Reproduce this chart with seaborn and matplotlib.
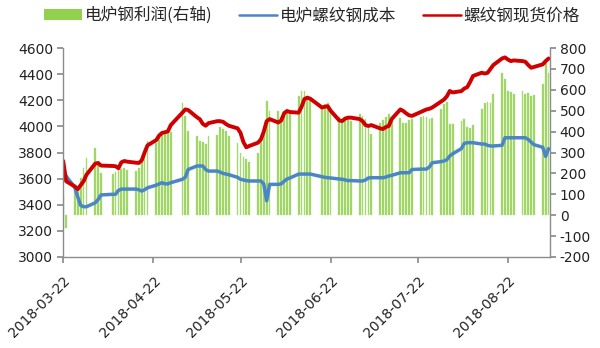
import matplotlib
matplotlib.use("Agg")
import matplotlib.pyplot as plt
import pandas as pd
import seaborn as sns
from matplotlib.patches import Patch
from matplotlib.lines import Line2D

# ---------------- data ----------------
dates = [
    "2018-03-22", "2018-03-23", "2018-03-26", "2018-03-27", "2018-03-28", "2018-03-29", "2018-03-30",
    "2018-04-02", "2018-04-03", "2018-04-04", "2018-04-08", "2018-04-09", "2018-04-10", "2018-04-11",
    "2018-04-12", "2018-04-13", "2018-04-16", "2018-04-17", "2018-04-18", "2018-04-19", "2018-04-20",
    "2018-04-23", "2018-04-24", "2018-04-25", "2018-04-26", "2018-04-27", "2018-04-28",
    "2018-05-02", "2018-05-03", "2018-05-04", "2018-05-07", "2018-05-08", "2018-05-09", "2018-05-10",
    "2018-05-11", "2018-05-14", "2018-05-15", "2018-05-16", "2018-05-17", "2018-05-18", "2018-05-21",
    "2018-05-22", "2018-05-23", "2018-05-24", "2018-05-25", "2018-05-28", "2018-05-29", "2018-05-30",
    "2018-05-31",
    "2018-06-01", "2018-06-04", "2018-06-05", "2018-06-06", "2018-06-07", "2018-06-08", "2018-06-11",
    "2018-06-12", "2018-06-13", "2018-06-14", "2018-06-15", "2018-06-19", "2018-06-20", "2018-06-21",
    "2018-06-22", "2018-06-25", "2018-06-26", "2018-06-27", "2018-06-28", "2018-06-29",
    "2018-07-02", "2018-07-03", "2018-07-04", "2018-07-05", "2018-07-06", "2018-07-09", "2018-07-10",
    "2018-07-11", "2018-07-12", "2018-07-13", "2018-07-16", "2018-07-17", "2018-07-18", "2018-07-19",
    "2018-07-20", "2018-07-23", "2018-07-24", "2018-07-25", "2018-07-26", "2018-07-27", "2018-07-30",
    "2018-07-31",
    "2018-08-01", "2018-08-02", "2018-08-03", "2018-08-06", "2018-08-07", "2018-08-08", "2018-08-09",
    "2018-08-10", "2018-08-13", "2018-08-14", "2018-08-15", "2018-08-16", "2018-08-17", "2018-08-20",
    "2018-08-21", "2018-08-22", "2018-08-23", "2018-08-24", "2018-08-27", "2018-08-28", "2018-08-29",
    "2018-08-30", "2018-08-31",
    "2018-09-03", "2018-09-04", "2018-09-05",
]

profit = [
    90, -60, 116, 132, 180, 228, 275,
    320, 245, 200, 195, 205, 225, 220, 228, 218,
    210, 228, 265, 320, 355,
    345, 372, 385, 390, 403, 398,
    538, 475, 403, 379, 355, 350, 340, 379,
    385, 420, 411, 403, 380, 345, 300, 280, 268, 255,
    299, 355, 395, 546,
    498, 498, 470, 500, 498, 490, 570, 594, 594, 570, 555,
    522, 530, 537, 508, 470, 460, 455, 465, 450,
    485, 475, 459, 419, 387, 440, 455, 470, 485, 470,
    465, 440, 440, 455, 460, 470, 475, 472, 460, 465, 508, 532,
    540, 436, 436, 450, 460, 420, 415, 430, 508, 537, 540, 535, 578,
    682, 650, 594, 590, 578, 594, 578, 586, 570, 575,
    627, 740, 680,
]

cost = [
    3650, 3620, 3530, 3460, 3395, 3385, 3385,
    3415, 3440, 3475, 3480, 3480, 3510, 3520, 3520, 3520,
    3520, 3515, 3505, 3515, 3530,
    3550, 3560, 3569, 3560, 3560, 3569,
    3595, 3610, 3670, 3697, 3697, 3697, 3670, 3658,
    3658, 3650, 3640, 3635, 3630, 3610, 3595, 3590, 3585, 3582,
    3582, 3582, 3560, 3430,
    3556, 3556, 3560, 3580, 3597, 3605, 3635, 3635, 3635, 3635, 3635,
    3615, 3610, 3607, 3605, 3597, 3595, 3590, 3585, 3585,
    3582, 3582, 3590, 3605, 3607, 3607, 3607, 3612, 3620, 3625,
    3645, 3645, 3645, 3645, 3670, 3673, 3673, 3673, 3690, 3722, 3730, 3735,
    3745, 3773, 3790, 3830, 3870, 3875, 3875, 3875, 3865, 3865, 3855, 3850, 3850,
    3855, 3913, 3913, 3913, 3913, 3913, 3913, 3900, 3880, 3860,
    3840, 3770, 3830,
]

spot = [
    3735, 3580, 3540, 3520, 3550, 3580, 3630,
    3715, 3720, 3700, 3697, 3695, 3680, 3725, 3735, 3730,
    3722, 3720, 3740, 3800, 3855,
    3895, 3930, 3950, 3955, 3962, 4010,
    4105, 4130, 4125, 4070, 4055, 4020, 4005, 4025,
    4040, 4040, 4035, 4018, 4005, 3985, 3950, 3880, 3840, 3850,
    3875, 3900, 3960, 4040,
    4056, 4030, 4045, 4100, 4118, 4110, 4105, 4150, 4210, 4220, 4212,
    4145, 4150, 4155, 4120, 4045, 4041, 4060, 4067, 4067,
    4056, 4040, 4010, 4003, 4010, 3985, 3980, 3995, 4003, 4056,
    4130, 4118, 4100, 4085, 4080, 4110, 4120, 4130, 4135, 4145, 4190, 4205,
    4230, 4271, 4260, 4270, 4290, 4300, 4340, 4386, 4411, 4405, 4410, 4440, 4470,
    4520, 4528, 4512, 4500, 4505, 4500, 4495, 4470, 4449, 4455,
    4475, 4500, 4520,
]

series_labels = ["电炉钢利润(右轴)", "电炉螺纹钢成本", "螺纹钢现货价格"]
xtick_labels = ["2018-03-22", "2018-04-22", "2018-05-22", "2018-06-22", "2018-07-22", "2018-08-22"]
left_ticks = [3000, 3200, 3400, 3600, 3800, 4000, 4200, 4400, 4600]
right_ticks = [-200, -100, 0, 100, 200, 300, 400, 500, 600, 700, 800]

# ---------------- style ----------------
sns.set_theme(style="white")
plt.rcParams["font.family"] = ["DejaVu Sans", "Noto Sans CJK SC"]

GREEN = "#9CD35F"
BLUE = "#4A86C6"
RED = "#D00000"
AXIS = "#8C8C8C"
TEXT = "#222222"

df = pd.DataFrame({
    "date": pd.to_datetime(dates),
    "profit": profit,
    "cost": cost,
    "spot": spot,
})

fig = plt.figure(figsize=(6.0, 3.48), dpi=100)
ax = fig.add_axes([0.105, 0.2615, 0.8117, 0.6005])
ax2 = ax.twinx()

# bars on the right axis
ax2.bar(df["date"], df["profit"], width=0.6, color=GREEN, edgecolor="#B5E08A",
        linewidth=0.3, zorder=1)

# lines on the left axis
sns.lineplot(data=df, x="date", y="cost", ax=ax, color=BLUE, linewidth=2.5)
sns.lineplot(data=df, x="date", y="spot", ax=ax, color=RED, linewidth=2.8)

ax.set_zorder(ax2.get_zorder() + 1)
ax.patch.set_visible(False)

ax.set_ylim(3000, 4600)
ax2.set_ylim(-200, 800)
ax.set_xlim(pd.Timestamp("2018-03-21 22:00"), pd.Timestamp("2018-09-05 12:00"))
ax.set_yticks(left_ticks)
ax2.set_yticks(right_ticks)
ax.set_yticklabels([str(v) for v in left_ticks])
ax2.set_yticklabels([str(v) for v in right_ticks])

xt = pd.to_datetime(xtick_labels)
ax.set_xticks(xt)
ax.set_xticklabels(xtick_labels, rotation=45, ha="right", rotation_mode="anchor")

ax.set_xlabel("")
ax.set_ylabel("")
ax2.set_ylabel("")

for a in (ax, ax2):
    for s in a.spines.values():
        s.set_color(AXIS)
        s.set_linewidth(1.0)
    a.spines["top"].set_visible(False)
ax.spines["right"].set_visible(False)
ax2.spines["left"].set_visible(False)
ax2.spines["bottom"].set_visible(False)

ax.tick_params(axis="y", left=True, direction="out", length=4, color=AXIS,
               labelsize=10, labelcolor=TEXT, pad=3)
ax.tick_params(axis="x", bottom=True, direction="out", length=4, color=AXIS,
               labelsize=10, labelcolor=TEXT, pad=8)
ax2.tick_params(axis="y", right=True, direction="out", length=4, color=AXIS,
                labelsize=10, labelcolor=TEXT, pad=3)

handles = [
    Patch(facecolor="#92D050", edgecolor="none"),
    Line2D([0], [0], color=BLUE, linewidth=1.8),
    Line2D([0], [0], color=RED, linewidth=1.8),
]
fig.legend(handles, series_labels, loc="center", bbox_to_anchor=(0.52, 0.955),
           ncol=3, frameon=False, fontsize=12, handlelength=2.3,
           handleheight=0.6, handletextpad=0.15, columnspacing=1.6,
           prop={"family": ["Noto Sans CJK SC", "DejaVu Sans"], "size": 12})

fig.savefig("out.png", dpi=100)
